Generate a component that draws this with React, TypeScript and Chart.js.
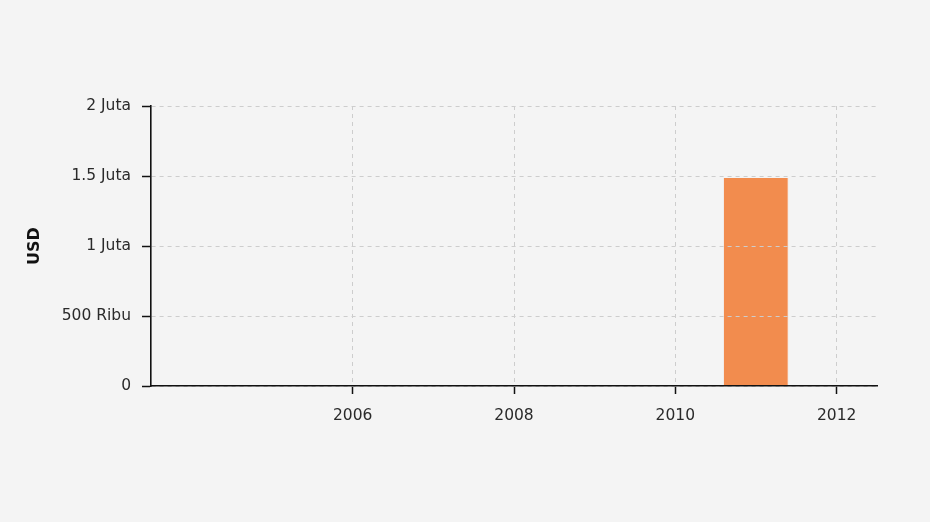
import React, { useEffect, useRef } from "react";
import { Chart, registerables } from "chart.js";

Chart.register(...registerables);

const years = ["2004", "2005", "2006", "2007", "2008", "2009", "2010", "2011", "2012"];
const values: (number | null)[] = [null, null, null, null, null, null, null, 1485000, null];
const labeledYears = ["2006", "2008", "2010", "2012"];
const yTickLabels: Record<number, string> = {
  0: "0",
  500000: "500 Ribu",
  1000000: "1 Juta",
  1500000: "1.5 Juta",
  2000000: "2 Juta",
};

export default function App() {
  const ref = useRef<HTMLCanvasElement>(null);
  useEffect(() => {
    document.body.style.margin = "0";
    document.body.style.background = "#f4f4f4";
    const font = { family: "'DejaVu Sans', Verdana, sans-serif", size: 15.5 };
    const chart = new Chart(ref.current!, {
      type: "bar",
      data: {
        labels: years,
        datasets: [
          {
            data: values,
            backgroundColor: "#f28c4e",
            borderColor: "#f6a474",
            borderWidth: { right: 1, left: 0, top: 0, bottom: 0 },
            barPercentage: 0.8,
            categoryPercentage: 1,
          },
        ],
      },
      options: {
        animation: false,
        responsive: false,
        maintainAspectRatio: false,
        layout: { padding: { top: 106, right: 53, bottom: 0, left: 0 } },
        plugins: { legend: { display: false }, tooltip: { enabled: false } },
        scales: {
          x: {
            offset: true,
            afterFit: (s: any) => {
              s.height = 136;
            },
            grid: {
              offset: false,
              z: 1,
              color: (ctx: any) =>
                labeledYears.includes(years[ctx.index]) ? "#cdcdcd" : "rgba(0,0,0,0)",
              tickColor: (ctx: any) =>
                labeledYears.includes(years[ctx.index]) ? "#111" : "rgba(0,0,0,0)",
              tickLength: 8,
              tickWidth: 1.5,
              tickBorderDash: [],
            },
            border: { display: true, color: "#111", width: 1.6, dash: [4, 4], z: 2 },
            ticks: {
              autoSkip: false,
              maxRotation: 0,
              color: "#2a2a2a",
              font,
              padding: 13,
              callback: (_v: any, i: number) => (labeledYears.includes(years[i]) ? years[i] : ""),
            },
          },
          y: {
            min: 0,
            max: 2000000,
            afterFit: (s: any) => {
              s.width = 151;
            },
            grid: {
              z: 1,
              color: "#cdcdcd",
              tickColor: "#111",
              tickLength: 9,
              tickWidth: 1.5,
              tickBorderDash: [],
            },
            border: { display: true, color: "#111", width: 1.6, dash: [4, 4], z: 2 },
            ticks: {
              stepSize: 500000,
              color: "#2a2a2a",
              font,
              padding: 11,
              callback: (v: any) => yTickLabels[v as number] ?? "",
            },
            title: {
              display: true,
              text: "USD",
              color: "#111",
              font: { ...font, size: 16, weight: "bold" },
              padding: 25,
            },
          },
        },
      },
    });
    return () => chart.destroy();
  }, []);
  return (
    <div style={{ width: 930, height: 522, background: "#f4f4f4" }}>
      <canvas ref={ref} width={930} height={522} />
    </div>
  );
}
